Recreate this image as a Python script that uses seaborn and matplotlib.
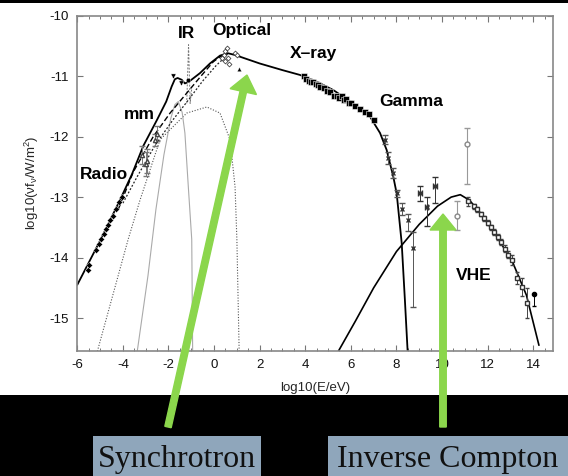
import numpy as np
import pandas as pd
import matplotlib
matplotlib.use("Agg")
import matplotlib.pyplot as plt
import seaborn as sns
from matplotlib.patches import Rectangle, FancyArrow
from matplotlib.transforms import IdentityTransform
from matplotlib.ticker import MultipleLocator

# ---- model curves (log10 E/eV, log10 nuFnu) ----
sync_x = [-6.0, -5.0, -4.13, -3.6, -3.1, -2.5, -2.1, -1.86, -1.72, -1.6, -1.42, -1.28,
          -1.1, -0.62, -0.18, 0.26, 0.6, 0.92, 2.0, 3.0, 3.77, 4.5, 5.23, 6.1, 6.84,
          7.28, 7.57, 7.86, 8.01, 8.23, 8.37, 8.49]
sync_y = [-14.45, -13.72, -13.05, -12.62, -12.15, -11.72, -11.42, -11.17, -11.05, -11.03,
          -11.06, -11.12, -11.09, -10.95, -10.79, -10.66, -10.62, -10.65, -10.79, -10.9,
          -10.98, -11.09, -11.23, -11.45, -11.67, -11.94, -12.22, -12.66, -12.94, -13.76,
          -14.7, -15.55]

dash_x = [-4.2, -3.54, -2.67, -1.93, -1.2, -0.6, -0.03, 0.26, 0.6]
dash_y = [-13.2, -12.58, -12.0, -11.61, -11.28, -11.01, -10.76, -10.68, -10.63]

dash2_x = [-4.0, -3.4, -2.6, -1.8, -1.1, -0.5, 0.1, 0.5]
dash2_y = [-13.1, -12.68, -12.15, -11.72, -11.38, -11.08, -10.82, -10.68]

wide_x = [-5.12, -3.77, -3.25, -2.37, -1.2, -0.32, 0.26, 0.7, 0.92, 1.0, 1.1]
wide_y = [-15.55, -13.7, -13.05, -12.05, -11.61, -11.51, -11.61, -12.05, -12.83, -13.7, -15.55]

thin_x = [-3.37, -2.9, -2.55, -2.2, -1.9, -1.72, -1.57, -1.4, -1.28, -1.13, -0.98, -0.94]
thin_y = [-15.55, -14.3, -13.2, -12.3, -11.7, -11.47, -11.42, -11.6, -11.94, -12.83, -13.7, -15.55]

ir_x = [-1.2, -1.12, -1.05, -0.98]
ir_y = [-11.45, -10.48, -11.45, -11.2]

ic_x = [5.45, 6.2, 7.0, 8.0, 9.0, 9.8, 10.4, 10.8, 11.2, 11.7, 12.4, 13.1, 13.7, 14.25]
ic_y = [-15.55, -15.05, -14.5, -13.9, -13.45, -13.15, -13.0, -12.96, -13.05, -13.27,
        -13.65, -14.08, -14.62, -15.45]

# ---- measured points ----
radio_x = [-5.55, -5.5, -5.2, -5.05, -4.95, -4.85, -4.75, -4.65, -4.55, -4.45, -4.3, -4.15, -4.05]
radio_y = [-14.2, -14.12, -13.88, -13.77, -13.69, -13.61, -13.53, -13.46, -13.38, -13.31,
           -13.19, -13.08, -13.0]

mm_x = [-3.15, -3.0, -2.95, -2.6, -2.5]
mm_y = [-12.3, -12.45, -12.4, -12.05, -11.95]
mm_e = [0.15, 0.2, 0.2, 0.1, 0.12]

ir_pts_x = [-1.8, -1.45, -1.15]
ir_pts_y = [-11.0, -11.12, -11.07]

opt_x = [0.45, 0.5, 0.55, 0.5, 0.6, 0.65, 0.9, 1.0, 0.35]
opt_y = [-10.65, -10.58, -10.53, -10.75, -10.7, -10.8, -10.62, -10.65, -10.7]
opt_tri_x = [1.1]
opt_tri_y = [-10.88]

xray_x = [3.95, 4.05, 4.15, 4.25, 4.35, 4.45, 4.55, 4.65, 4.8, 4.95, 5.1, 5.25,
          5.4, 5.5, 5.6, 5.7, 5.8, 5.9, 6.0, 6.2, 6.4, 6.6, 6.8, 7.0]
xray_y = [-11.0, -11.05, -11.08, -11.1, -11.1, -11.13, -11.15, -11.18, -11.2, -11.24,
          -11.27, -11.33, -11.32, -11.36, -11.33, -11.4, -11.38, -11.45, -11.44, -11.5,
          -11.55, -11.6, -11.63, -11.72]

gam_x = [7.5, 7.65, 7.86, 8.01, 8.23, 8.52, 8.74]
gam_y = [-12.05, -12.36, -12.6, -12.94, -13.2, -13.38, -13.84]
gam_lo = [0.08, 0.1, 0.08, 0.05, 0.1, 0.18, 0.97]
gam_hi = [0.08, 0.1, 0.08, 0.05, 0.1, 0.1, 0.27]

egret_x = [9.03, 9.32, 9.69]
egret_y = [-12.94, -13.16, -12.81]
egret_lo = [0.12, 0.31, 0.29]
egret_hi = [0.12, 0.16, 0.15]

circ_x = [10.67, 11.1]
circ_y = [-13.32, -12.12]
circ_lo = [0.22, 0.66]
circ_hi = [0.25, 0.26]

vhe_x = [11.15, 11.4, 11.55, 11.7, 11.85, 12.0, 12.15, 12.3, 12.45, 12.6, 12.75, 12.9,
         13.05, 13.27, 13.49, 13.71]
vhe_y = [-13.07, -13.15, -13.2, -13.28, -13.35, -13.42, -13.5, -13.58, -13.66, -13.75,
         -13.85, -13.95, -14.04, -14.34, -14.48, -14.75]
vhe_e = [0.08, 0.04, 0.04, 0.04, 0.04, 0.04, 0.04, 0.05, 0.05, 0.05, 0.05, 0.06,
         0.08, 0.1, 0.15, 0.25]

vhe_dot_x = [14.03]
vhe_dot_y = [-14.6]

band_labels = ["Radio", "mm", "IR", "Optical", "X\u2013ray", "Gamma", "VHE"]
band_x = [-4.83, -3.29, -1.21, 1.23, 4.34, 8.64, 11.4]
band_y = [-12.63, -11.63, -10.3, -10.25, -10.62, -11.42, -14.29]

W, H = 568, 476
sns.set_style("ticks")
plt.rcParams["font.family"] = ["Liberation Sans", "DejaVu Sans"]
plt.rcParams["mathtext.fontset"] = "custom"
plt.rcParams["mathtext.rm"] = "Liberation Sans"
plt.rcParams["mathtext.it"] = "Liberation Sans"
plt.rcParams["axes.unicode_minus"] = False

fig = plt.figure(figsize=(W / 100, H / 100), dpi=100, facecolor="black")
fig.add_artist(Rectangle((0, 81 / H), 1, (476 - 3 - 81) / H, transform=fig.transFigure,
                         facecolor="white", edgecolor="none", zorder=0))
ax = fig.add_axes([77.3 / W, (H - 350.7) / H, (553.3 - 77.3) / W, (350.7 - 15.7) / H])
ax.set_facecolor("white")


def curve(x, y, **kw):
    df = pd.DataFrame({"x": x, "y": y})
    sns.lineplot(data=df, x="x", y="y", sort=False, estimator=None, ax=ax, **kw)


curve(wide_x, wide_y, color="#555555", lw=0.8, linestyle=(0, (1, 1.5)))
curve(thin_x, thin_y, color="#aaaaaa", lw=0.8)
curve(ir_x, ir_y, color="#777777", lw=0.7, linestyle=(0, (2, 1.5)))
curve(dash2_x, dash2_y, color="#222222", lw=0.9, linestyle=(0, (1.5, 1.5)))
curve(dash_x, dash_y, color="black", lw=1.0, linestyle=(0, (4, 2)))
curve(sync_x, sync_y, color="black", lw=1.3)
curve(ic_x, ic_y, color="black", lw=1.2)

# points
sns.scatterplot(x=radio_x, y=radio_y, marker="D", s=10, color="black", ax=ax, zorder=5)
ax.errorbar(mm_x, mm_y, yerr=mm_e, fmt="^", ms=3, mfc="white", mec="#444444",
            ecolor="#777777", elinewidth=0.7, capsize=2, lw=0, zorder=5)
sns.scatterplot(x=ir_pts_x[:2], y=ir_pts_y[:2], marker="v", s=14, color="black", ax=ax, zorder=5)
sns.scatterplot(x=ir_pts_x[2:3], y=ir_pts_y[2:3], marker="o", s=10, color="black", ax=ax, zorder=5)
sns.scatterplot(x=opt_x, y=opt_y, marker="D", s=6, facecolor="white", edgecolor="#444444",
                linewidth=0.6, ax=ax, zorder=5)
sns.scatterplot(x=opt_tri_x, y=opt_tri_y, marker="^", s=10, color="black", ax=ax, zorder=5)
sns.scatterplot(x=xray_x, y=xray_y, marker="s", s=22, color="black", ax=ax, zorder=5)
ax.errorbar(gam_x, gam_y, yerr=[gam_lo, gam_hi], fmt="x", ms=3, mec="#333333",
            ecolor="#555555", elinewidth=0.7, capsize=2, lw=0, zorder=5)
ax.errorbar(egret_x, egret_y, yerr=[egret_lo, egret_hi], xerr=0.08, fmt="x", ms=3,
            mec="#333333", ecolor="#333333", elinewidth=0.7, capsize=2, lw=0, zorder=5)
ax.errorbar(circ_x, circ_y, yerr=[circ_lo, circ_hi], fmt="o", ms=3.5, mfc="white",
            mec="#888888", ecolor="#999999", elinewidth=0.8, capsize=2.5, lw=0, zorder=5)
ax.errorbar(vhe_x, vhe_y, yerr=vhe_e, fmt="s", ms=3, mfc="white", mec="#333333",
            ecolor="#444444", elinewidth=0.7, capsize=1.5, lw=0, zorder=5)
ax.errorbar(vhe_dot_x, vhe_dot_y, yerr=[[0.2], [0.0]], fmt="o", ms=3, color="black",
            elinewidth=0.7, capsize=1.5, lw=0, zorder=5)

for lab, x, y in zip(band_labels, band_x, band_y):
    ax.text(x, y, lab, ha="center", va="center", fontsize=12.5, fontweight="bold", color="black")

ax.set_xlim(-6, 14.88)
ax.set_ylim(-15.54, -10)
ax.xaxis.set_major_locator(MultipleLocator(2))
ax.xaxis.set_minor_locator(MultipleLocator(0.5))
ax.yaxis.set_major_locator(MultipleLocator(1))
ax.tick_params(which="both", direction="in", top=True, right=True, color="#777777",
               labelsize=9.5, labelcolor="#111111", pad=6)
ax.tick_params(which="major", length=4.5, width=0.8)
ax.tick_params(which="minor", length=2.5, width=0.7)
for sp in ax.spines.values():
    sp.set_color("#888888")
    sp.set_linewidth(1.2)
ax.set_xlabel("log10(E/eV)", fontsize=9.5, labelpad=8)
ax.set_ylabel(r"log10($\nu$f$_\nu$/W/m$^2$)", fontsize=9.5, labelpad=6)

# green arrows and captions in pixel coordinates
green = "#8bd64c"
fig.add_artist(FancyArrow(168, 49, 247 - 168, 401 - 49, width=6.5, head_width=27,
                          head_length=17, length_includes_head=True, color=green,
                          transform=IdentityTransform(), zorder=10))
fig.add_artist(FancyArrow(443, 49, 0, 262 - 49, width=6.5, head_width=26,
                          head_length=16, length_includes_head=True, color=green,
                          transform=IdentityTransform(), zorder=10))

box = "#8fa6bb"
fig.add_artist(Rectangle((93 / W, 0), (261 - 93) / W, 40.3 / H, transform=fig.transFigure,
                         facecolor=box, edgecolor="none", zorder=9))
fig.add_artist(Rectangle((328 / W, 0), (568 - 328) / W, 40 / H, transform=fig.transFigure,
                         facecolor=box, edgecolor="none", zorder=9))
fig.text(177 / W, 9.3 / H, "Synchrotron", ha="center", va="baseline", fontsize=23,
         family="Liberation Serif", color="#111111", zorder=11)
fig.text(448 / W, 9.3 / H, "Inverse Compton", ha="center", va="baseline", fontsize=23,
         family="Liberation Serif", color="#111111", zorder=11)

fig.savefig("out.png", dpi=100, facecolor="black")
